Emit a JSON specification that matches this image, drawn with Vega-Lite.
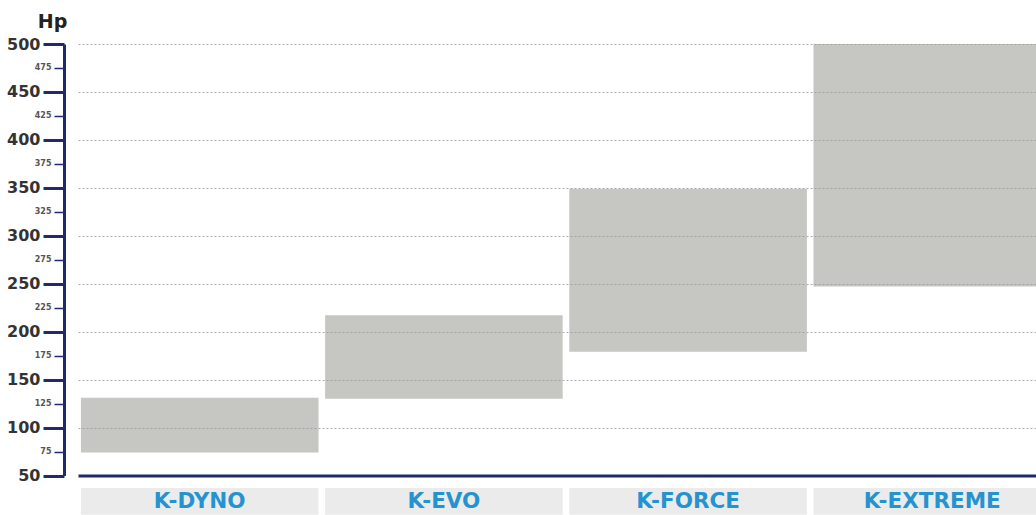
{
  "$schema": "https://vega.github.io/schema/vega-lite/v6.json",
  "width": 958,
  "height": 431.5,
  "autosize": {"type": "none"},
  "padding": {"left": 78, "top": 44, "right": 0, "bottom": 39.5},
  "background": "white",
  "config": {"view": {"stroke": null}, "font": "DejaVu Sans"},
  "data": {
    "values": [
      {"model": "K-DYNO", "low": 74, "high": 131},
      {"model": "K-EVO", "low": 130, "high": 217},
      {"model": "K-FORCE", "low": 179, "high": 349},
      {"model": "K-EXTREME", "low": 247, "high": 500}
    ]
  },
  "encoding": {
    "x": {
      "field": "model",
      "type": "nominal",
      "sort": null,
      "title": null,
      "scale": {"range": [0, 976], "paddingInner": 0.027, "paddingOuter": 0.012},
      "axis": {
        "zindex": 2,
        "ticks": false,
        "tickSize": 0,
        "domainColor": "#1f2a6b",
        "domainWidth": 3,
        "labelAngle": 0,
        "labelFont": "DejaVu Sans",
        "labelFontSize": 21.5,
        "labelFontWeight": "bold",
        "labelColor": "#2693d1",
        "labelBaseline": "middle",
        "labelPadding": 26,
        "grid": false
      }
    }
  },
  "layer": [
    {
      "mark": {"type": "bar", "color": "#ebebeb", "clip": false},
      "encoding": {
        "y": {
          "datum": 37,
          "type": "quantitative",
          "scale": {"domain": [50, 500], "nice": false, "zero": false},
          "axis": {
            "title": "Hp",
            "zindex": 1,
            "offset": 14,
            "values": [50, 75, 100, 125, 150, 175, 200, 225, 250, 275, 300, 325, 350, 375, 400, 425, 450, 475, 500],
            "labelOverlap": false,
            "domainColor": "#1f2a6b",
            "domainWidth": 3,
            "tickColor": "#1f2a6b",
            "tickWidth": {"condition": {"test": "datum.value % 50 === 0", "value": 3}, "value": 1.5},
            "tickSize": {"condition": {"test": "datum.value % 50 === 0", "value": 21}, "value": 10},
            "labelPadding": 3,
            "labelFont": "DejaVu Sans",
            "labelFontWeight": "bold",
            "labelFontSize": {"condition": {"test": "datum.value % 50 === 0", "value": 16}, "value": 8},
            "labelColor": {"condition": {"test": "datum.value % 50 === 0", "value": "#333333"}, "value": "#555555"},
            "grid": true,
            "gridColor": "#999999",
            "gridDash": [2, 2],
            "gridWidth": 1,
            "gridOpacity": {"condition": {"test": "datum.value % 50 === 0 && datum.value > 50", "value": 0.8}, "value": 0},
            "titleAngle": 0,
            "titleAlign": "center",
            "titleBaseline": "alphabetic",
            "titleX": -12,
            "titleY": -17,
            "titleFont": "DejaVu Sans",
            "titleFontSize": 19,
            "titleFontWeight": "bold",
            "titleColor": "#222222"
          }
        },
        "y2": {"datum": 9}
      }
    },
    {
      "mark": {"type": "bar", "color": "#c6c6c3"},
      "encoding": {
        "y": {
          "field": "low",
          "type": "quantitative",
          "scale": {"domain": [50, 500], "nice": false, "zero": false},
          "axis": {
            "title": "Hp",
            "zindex": 1,
            "offset": 14,
            "values": [50, 75, 100, 125, 150, 175, 200, 225, 250, 275, 300, 325, 350, 375, 400, 425, 450, 475, 500],
            "labelOverlap": false,
            "domainColor": "#1f2a6b",
            "domainWidth": 3,
            "tickColor": "#1f2a6b",
            "tickWidth": {"condition": {"test": "datum.value % 50 === 0", "value": 3}, "value": 1.5},
            "tickSize": {"condition": {"test": "datum.value % 50 === 0", "value": 21}, "value": 10},
            "labelPadding": 3,
            "labelFont": "DejaVu Sans",
            "labelFontWeight": "bold",
            "labelFontSize": {"condition": {"test": "datum.value % 50 === 0", "value": 16}, "value": 8},
            "labelColor": {"condition": {"test": "datum.value % 50 === 0", "value": "#333333"}, "value": "#555555"},
            "grid": true,
            "gridColor": "#999999",
            "gridDash": [2, 2],
            "gridWidth": 1,
            "gridOpacity": {"condition": {"test": "datum.value % 50 === 0 && datum.value > 50", "value": 0.8}, "value": 0},
            "titleAngle": 0,
            "titleAlign": "center",
            "titleBaseline": "alphabetic",
            "titleX": -12,
            "titleY": -17,
            "titleFont": "DejaVu Sans",
            "titleFontSize": 19,
            "titleFontWeight": "bold",
            "titleColor": "#222222"
          }
        },
        "y2": {"field": "high"}
      }
    }
  ]
}
